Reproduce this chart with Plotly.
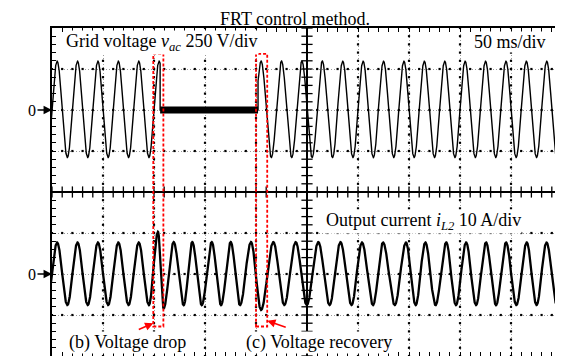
import numpy as np
import plotly.graph_objects as go

# ---------------- data ----------------
# time in ms (50 ms/div, 10 div); voltage in V (250 V/div); current in A (10 A/div)
V_SCALE = 250
I_SCALE = 10
V_ZERO_DIV = 2      # top trace reference level (div)
I_ZERO_DIV = -2     # bottom trace reference level (div)

# grid-voltage half-cycle extrema (time ms, value V)
V_EXT_T = [-5, 5, 15, 25, 35, 45, 55, 65, 75, 85, 95, 105, 115, 125, 135, 145, 155,
           165, 175, 185, 195, 205, 215, 225, 235, 245, 255, 265, 275, 285, 295, 305,
           315, 325, 335, 345, 355, 365, 375, 385, 395, 405, 415, 425, 435, 445, 455,
           465, 475, 485, 495, 505]
V_EXT_V = [-290, 298, -290, 298, -290, 298, -290, 298, -290, 298, -290, 298, -290, 298,
           -290, 298, -290, 298, -290, 298, -290, 298, -290, 298, -290, 298, -290, 298,
           -290, 298, -290, 298, -290, 298, -290, 298, -290, 298, -290, 298, -290, 298,
           -290, 298, -290, 298, -290, 298, -290, 298, -290, 298]
V_DROP_T = 106       # ms, voltage drop instant
V_RECOVER_T = 202    # ms, voltage recovery instant
V_DIP_LEVEL = 0      # V, residual voltage during the dip

# output current half-cycle extrema (time ms, value A)
I_EXT_T = [-5, 5, 15, 25, 35, 45, 55, 65, 75, 85, 95, 103.9, 109.4, 119.3, 129.1,
           137.5, 146.8, 156.6, 165.7, 175.2, 184.3, 195.1, 204.9, 217.0, 227.7, 238.9,
           249.7, 261.1, 272.1, 282.8, 293.6, 303.9, 314.7, 324.5, 336.0, 347.0, 356.5,
           366.0, 376.0, 386.5, 396.0, 406.0, 415.7, 425.5, 435.3, 445.1, 455.2, 465.4,
           475.0, 484.8, 495.0, 505.0]
I_EXT_A = [-7.6, 7.7, -7.6, 7.7, -7.6, 7.7, -7.6, 7.7, -7.6, 7.7, -7.6, 10.3, -8.4, 7.8,
           -7.6, 7.8, -7.6, 7.8, -7.6, 7.8, -7.6, 7.8, -8.8, 7.8, -7.6, 7.8, -7.6, 7.8,
           -7.6, 7.8, -7.6, 7.7, -7.6, 7.7, -7.6, 7.7, -7.6, 7.7, -7.6, 7.7, -7.6, 7.7,
           -7.6, 7.7, -7.6, 7.7, -7.6, 7.7, -7.6, 7.7, -7.6, 7.7]

# highlighted event windows (ms)
DROP_WINDOW = [99.3, 109.2]
RECOVERY_WINDOW = [200.0, 211.0]

FONT = "Liberation Serif, Times New Roman, serif"

# page body has an 8 px default margin; the figure is sized to compensate
PAGE_OFF = 8
WIN_W, WIN_H = 563, 356


def shape_wave(ext_t, ext_v, t):
    ext_t = np.asarray(ext_t, float)
    ext_v = np.asarray(ext_v, float)
    i = np.clip(np.searchsorted(ext_t, t, side="right") - 1, 0, len(ext_t) - 2)
    t0, t1 = ext_t[i], ext_t[i + 1]
    v0, v1 = ext_v[i], ext_v[i + 1]
    s = (t - t0) / (t1 - t0)
    return v0 + (v1 - v0) * (1 - np.cos(np.pi * s)) / 2


t = np.linspace(-5, 505, 10201)

# voltage trace with the dip
v_nom = shape_wave(V_EXT_T, V_EXT_V, t)
pre = t <= V_DROP_T
post = t >= V_RECOVER_T
vt = np.concatenate([t[pre], [V_DROP_T, V_RECOVER_T], t[post]])
vv = np.concatenate([v_nom[pre], [V_DIP_LEVEL, V_DIP_LEVEL], v_nom[post]])
v_div = V_ZERO_DIV + vv / V_SCALE

# current trace
i_nom = shape_wave(I_EXT_T, I_EXT_A, t)
i_div = I_ZERO_DIV + i_nom / I_SCALE

fig = go.Figure()

# ---------- graticule dots ----------
minor_x = np.arange(0, 501, 10)
minor_y = np.round(np.arange(-4, 4.01, 0.2), 3)
gx, gy = [], []
for yl in [-3, -2, -1, 1, 2, 3]:
    gx += list(minor_x)
    gy += [yl] * len(minor_x)
for xl in [50, 100, 150, 200, 300, 350, 400, 450]:
    gx += [xl] * len(minor_y)
    gy += list(minor_y)
fig.add_trace(go.Scatter(x=gx, y=gy, mode="markers",
                         marker=dict(symbol="square", size=2.2, color="black"),
                         hoverinfo="skip", showlegend=False))

# center cross ticks
fig.add_trace(go.Scatter(x=list(minor_x), y=[0] * len(minor_x), mode="markers",
                         marker=dict(symbol="line-ns", size=8,
                                     line=dict(width=1.3, color="black")),
                         hoverinfo="skip", showlegend=False))
fig.add_trace(go.Scatter(x=[250] * len(minor_y), y=list(minor_y), mode="markers",
                         marker=dict(symbol="line-ew", size=8,
                                     line=dict(width=1.3, color="black")),
                         hoverinfo="skip", showlegend=False))

# ---------- waveforms ----------
fig.add_trace(go.Scatter(x=vt, y=v_div, mode="lines",
                         line=dict(color="black", width=1.4),
                         hoverinfo="skip", showlegend=False))
fig.add_trace(go.Scatter(x=[V_DROP_T, V_RECOVER_T],
                         y=[V_ZERO_DIV + V_DIP_LEVEL / V_SCALE] * 2, mode="lines",
                         line=dict(color="black", width=7),
                         hoverinfo="skip", showlegend=False))
fig.add_trace(go.Scatter(x=t, y=i_div, mode="lines",
                         line=dict(color="black", width=2.3),
                         hoverinfo="skip", showlegend=False))

# center lines
fig.add_shape(type="line", x0=250, x1=250, y0=-4, y1=4, xref="x", yref="y",
              line=dict(color="black", width=2))
fig.add_shape(type="line", x0=0, x1=500, y0=0, y1=0, xref="x", yref="y",
              line=dict(color="black", width=2))

# red dashed event boxes
for w in (DROP_WINDOW, RECOVERY_WINDOW):
    fig.add_shape(type="rect", x0=w[0], x1=w[1], y0=-3.28, y1=3.37,
                  xref="x", yref="y",
                  line=dict(color="red", width=1.8, dash="3px,2px"))

annos = []
# red arrows
annos.append(dict(x=DROP_WINDOW[0], y=-3.2, xref="x", yref="y", text="",
                  showarrow=True, ax=-16, ay=7, arrowhead=2, arrowsize=1.1,
                  arrowwidth=1.5, arrowcolor="red", standoff=0))
annos.append(dict(x=RECOVERY_WINDOW[1], y=-3.14, xref="x", yref="y", text="",
                  showarrow=True, ax=20, ay=7, arrowhead=2, arrowsize=1.1,
                  arrowwidth=1.5, arrowcolor="red", standoff=0))
# zero markers
for yz in (V_ZERO_DIV, I_ZERO_DIV):
    annos.append(dict(x=0, y=yz, xref="x", yref="y", text="0",
                      font=dict(family=FONT, size=16, color="black"),
                      showarrow=True, ax=-20, ay=0, arrowhead=2, arrowsize=1.3,
                      arrowwidth=1.3, arrowcolor="black", standoff=0))


def lab(text, x, y, xanchor, bg=True, size=18, yanchor="middle"):
    annos.append(dict(x=x, y=y, xref="paper", yref="paper", text=text,
                      xanchor=xanchor, yanchor=yanchor, showarrow=False,
                      font=dict(family=FONT, size=size, color="black"),
                      bgcolor="white" if bg else None, borderpad=0))


# plot area spans window pixels x 52..562, y 28..356
def px(xw):
    return (xw - 52) / 510


def py(yw):
    return (356 - yw) / 328


lab("Grid voltage <i>v<sub>ac</sub></i> 250 V/div", px(65), py(42), "left")
lab("50 ms/div", px(547), py(42), "right")
lab("Output current <i>i<sub>L2</sub></i> 10 A/div", px(325), py(221), "left")
lab("(b) Voltage drop", px(127.5), py(342), "center")
lab("(c) Voltage recovery", px(319), py(342), "center")
lab("FRT control method.", px(295), py(PAGE_OFF), "center", bg=False, size=18,
    yanchor="top")

fig.update_layout(annotations=annos)

axis_common = dict(showline=True, linewidth=2, linecolor="black", mirror="allticks",
                   ticks="inside", ticklen=4, tickwidth=1, tickcolor="black",
                   showticklabels=False, zeroline=False,
                   showgrid=True, gridcolor="#9a9a9a", gridwidth=1, griddash="1px,2px")
fig.update_xaxes(range=[0, 500], dtick=50, tick0=0,
                 minor=dict(dtick=10, ticks="inside", ticklen=4, tickcolor="black",
                            tickwidth=1, showgrid=False),
                 **axis_common)
fig.update_yaxes(range=[-4, 4], dtick=1, tick0=0,
                 minor=dict(dtick=0.2, ticks="inside", ticklen=4, tickcolor="black",
                            tickwidth=1, showgrid=False),
                 **axis_common)

fig.update_layout(width=WIN_W - PAGE_OFF, height=WIN_H - PAGE_OFF, autosize=False,
                  margin=dict(l=52 - PAGE_OFF, r=1, t=28 - PAGE_OFF, b=0),
                  paper_bgcolor="white", plot_bgcolor="white",
                  showlegend=False)

fig.write_html("out.html", config={"displayModeBar": False})
